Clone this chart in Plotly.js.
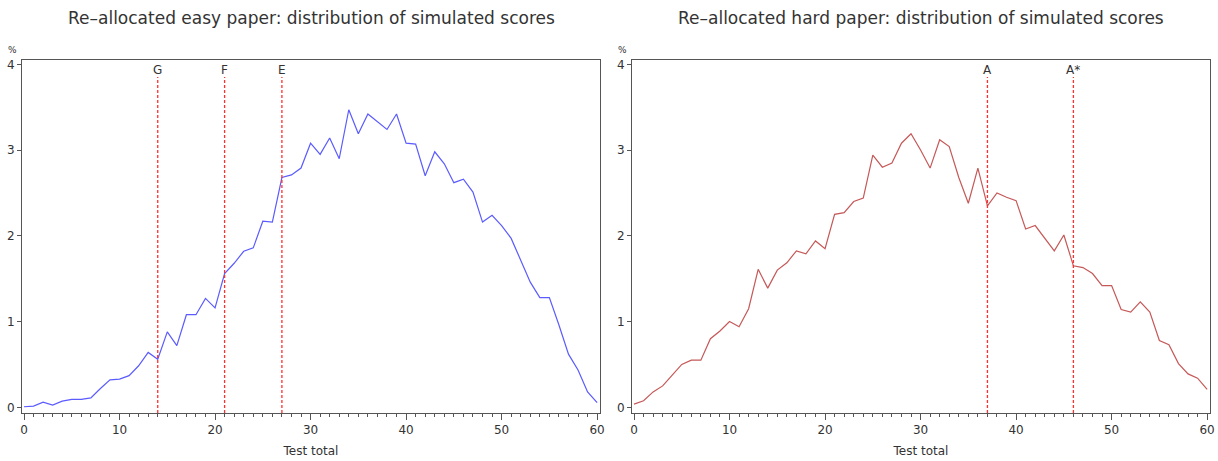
<!DOCTYPE html>
<html>
<head>
<meta charset="utf-8">
<script src="https://cdn.plot.ly/plotly-3.0.1.min.js"></script>
<style>html,body{margin:0;padding:0;background:#fff;}#chart{width:1218px;height:461px;}</style>
</head>
<body>
<div id="chart"></div>
<script>
// Test total (x values)
const testTotals = [0,1,2,3,4,5,6,7,8,9,10,11,12,13,14,15,16,17,18,19,20,21,22,23,24,25,26,27,28,29,30,31,32,33,34,35,36,37,38,39,40,41,42,43,44,45,46,47,48,49,50,51,52,53,54,55,56,57,58,59,60];

// Re-allocated easy paper: % of simulated scores
const easyPct = [0.007,0.015,0.06,0.027,0.073,0.093,0.093,0.11,0.22,0.32,0.33,0.37,0.485,0.64,0.56,0.88,0.72,1.08,1.08,1.27,1.16,1.56,1.68,1.82,1.86,2.17,2.16,2.68,2.71,2.79,3.08,2.95,3.14,2.90,3.47,3.19,3.42,3.33,3.24,3.42,3.08,3.07,2.70,2.98,2.84,2.62,2.66,2.51,2.16,2.24,2.12,1.97,1.72,1.46,1.28,1.28,0.96,0.62,0.435,0.18,0.054];

// Re-allocated hard paper: % of simulated scores
const hardPct = [0.038,0.077,0.18,0.25,0.376,0.50,0.55,0.55,0.80,0.89,1.0,0.94,1.15,1.61,1.39,1.60,1.685,1.825,1.79,1.94,1.85,2.25,2.27,2.40,2.44,2.94,2.80,2.85,3.08,3.19,3.0,2.79,3.12,3.04,2.68,2.38,2.79,2.35,2.50,2.45,2.41,2.08,2.12,1.97,1.825,2.01,1.65,1.63,1.56,1.42,1.42,1.14,1.11,1.23,1.11,0.78,0.73,0.51,0.39,0.34,0.21];

// Grade boundaries
const easyGrades = ["G","F","E"];
const easyCuts = [14,21,27];
const hardGrades = ["A","A*"];
const hardCuts = [37,46];

const titles = ["Re\u2013allocated easy paper: distribution of simulated scores",
                "Re\u2013allocated hard paper: distribution of simulated scores"];
const xTitle = "Test total";
const yUnit = "%";

const FONT = "DejaVu Sans, sans-serif";
const TXT = "#333333";
const AX = "#555555";

const traces = [
  {x: testTotals, y: easyPct, type: "scatter", mode: "lines", line: {color: "#5b5bff", width: 1.2}, xaxis: "x", yaxis: "y", hoverinfo: "skip"},
  {x: testTotals, y: hardPct, type: "scatter", mode: "lines", line: {color: "#c65858", width: 1.2}, xaxis: "x2", yaxis: "y2", hoverinfo: "skip"}
];

const W = 1218, H = 461;
const yDom = [1 - 413/H, 1 - 59.5/H];

function xax(domain, anchor) {
  return {
    domain: domain, anchor: anchor, range: [-0.21, 60.3],
    showline: true, linecolor: AX, linewidth: 1, mirror: true,
    showgrid: false, zeroline: false,
    tickmode: "linear", tick0: 0, dtick: 10, ticks: "outside", ticklen: 6, tickcolor: AX, tickwidth: 1,
    minor: {tickmode: "linear", tick0: 0, dtick: 1, ticks: "outside", ticklen: 3, tickcolor: AX, tickwidth: 1, showgrid: false},
    tickfont: {family: FONT, size: 12, color: TXT},
    title: {text: xTitle, font: {family: FONT, size: 12, color: TXT}, standoff: 10},
    fixedrange: true
  };
}
function yax(anchor) {
  return {
    domain: yDom, anchor: anchor, range: [-0.066, 4.056],
    showline: true, linecolor: AX, linewidth: 1, mirror: true,
    showgrid: false, zeroline: false,
    tickmode: "linear", tick0: 0, dtick: 1, ticks: "outside", ticklen: 4, tickcolor: AX, tickwidth: 1,
    tickfont: {family: FONT, size: 12, color: TXT},
    fixedrange: true
  };
}

const shapes = [];
const annotations = [];
function addCuts(cuts, labels, xref) {
  cuts.forEach((c, i) => {
    shapes.push({type: "line", xref: xref, yref: "paper", x0: c, x1: c, y0: yDom[0], y1: 1 - 77/H,
                 line: {color: "#ff3030", width: 1.3, dash: "3px,2px"}});
    annotations.push({xref: xref, yref: "paper", x: c, y: 1 - 70/H, text: labels[i], showarrow: false,
                      xanchor: "center", yanchor: "middle", font: {family: FONT, size: 12, color: TXT}});
  });
}
addCuts(easyCuts, easyGrades, "x");
addCuts(hardCuts, hardGrades, "x2");

annotations.push({xref: "x domain", yref: "paper", x: 0.5, y: 1 - 18/H, text: titles[0], showarrow: false,
                  xanchor: "center", yanchor: "middle", font: {family: FONT, size: 17, color: TXT}});
annotations.push({xref: "x2 domain", yref: "paper", x: 0.5, y: 1 - 18/H, text: titles[1], showarrow: false,
                  xanchor: "center", yanchor: "middle", font: {family: FONT, size: 17, color: TXT}});
annotations.push({xref: "paper", yref: "paper", x: 12.5/W, y: 1 - 50/H, text: yUnit, showarrow: false,
                  xanchor: "center", yanchor: "middle", font: {family: FONT, size: 9, color: TXT}});
annotations.push({xref: "paper", yref: "paper", x: 622/W, y: 1 - 50/H, text: yUnit, showarrow: false,
                  xanchor: "center", yanchor: "middle", font: {family: FONT, size: 9, color: TXT}});

const layout = {
  width: W, height: H,
  margin: {l: 0, r: 0, t: 0, b: 0},
  paper_bgcolor: "#ffffff", plot_bgcolor: "#ffffff",
  showlegend: false,
  xaxis: xax([22/W, 600/W], "y"),
  yaxis: yax("x"),
  xaxis2: xax([632/W, 1210/W], "y2"),
  yaxis2: yax("x2"),
  shapes: shapes,
  annotations: annotations
};

Plotly.newPlot("chart", traces, layout, {staticPlot: true, displayModeBar: false});
</script>
</body>
</html>
